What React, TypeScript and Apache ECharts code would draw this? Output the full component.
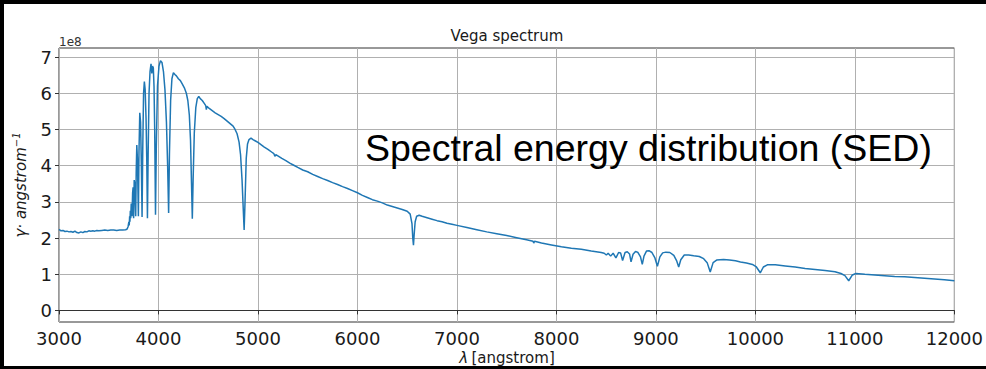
import { useEffect, useRef } from "react";
import * as echarts from "echarts";

// Vega spectral energy distribution, flux in units of 1e8 (γ · Å⁻¹)
const wavelength = [
  3000, 3020, 3040, 3060, 3080, 3100, 3120, 3140, 3160, 3180, 3200, 3220, 3240, 3260, 3280, 3300,
  3320, 3340, 3360, 3380, 3400, 3430, 3460, 3490, 3520, 3550, 3580, 3610, 3640, 3670, 3685, 3695,
  3702, 3706, 3710, 3713, 3717, 3721, 3726, 3734, 3740, 3745, 3750, 3756, 3762, 3771, 3776, 3782,
  3788, 3798, 3804, 3812, 3820, 3828, 3835, 3842, 3850, 3858, 3866, 3875, 3882, 3889, 3896, 3905,
  3915, 3925, 3933, 3940, 3948, 3955, 3962, 3970, 3978, 3990, 4005, 4020, 4035, 4050, 4065, 4080,
  4092, 4102, 4110, 4122, 4135, 4150, 4165, 4180, 4200, 4220, 4240, 4260, 4280, 4295, 4310, 4322,
  4332, 4340, 4348, 4360, 4375, 4390, 4405, 4420, 4440, 4460, 4475, 4481, 4487, 4510, 4540, 4570,
  4600, 4630, 4660, 4690, 4720, 4750, 4770, 4790, 4810, 4825, 4840, 4852, 4861, 4870, 4882, 4895,
  4910, 4930, 4950, 4975, 5000, 5030, 5060, 5100, 5140, 5160, 5170, 5180, 5200, 5240, 5280, 5320,
  5360, 5400, 5450, 5500, 5550, 5600, 5650, 5700, 5750, 5800, 5850, 5900, 5950, 6000, 6050, 6100,
  6150, 6200, 6250, 6300, 6350, 6400, 6450, 6500, 6530, 6548, 6556, 6563, 6570, 6580, 6595, 6620,
  6650, 6700, 6750, 6800, 6850, 6900, 6950, 7000, 7100, 7200, 7300, 7400, 7500, 7600, 7700, 7765,
  7772, 7780, 7850, 7950, 8050, 8150, 8250, 8350, 8450, 8480, 8502, 8520, 8545, 8570, 8598, 8625,
  8645, 8665, 8690, 8712, 8735, 8750, 8770, 8795, 8820, 8845, 8863, 8880, 8905, 8930, 8960, 8990,
  9015, 9040, 9068, 9100, 9140, 9180, 9210, 9229, 9250, 9285, 9330, 9380, 9436, 9480, 9515, 9546,
  9575, 9610, 9680, 9740, 9800, 9850, 9910, 9970, 10010, 10049, 10080, 10120, 10200, 10300, 10400, 10500,
  10600, 10700, 10800, 10860, 10900, 10938, 10975, 11010, 11100, 11200, 11300, 11400, 11500, 11600, 11700, 11800,
  11900, 12000,
];

const flux = [
  2.24, 2.2, 2.21, 2.18, 2.19, 2.17, 2.18, 2.16, 2.19, 2.15, 2.14, 2.17, 2.15, 2.18, 2.17, 2.2,
  2.19, 2.2, 2.19, 2.21, 2.2, 2.21, 2.22, 2.21, 2.22, 2.22, 2.21, 2.22, 2.22, 2.23, 2.25, 2.32,
  2.45, 2.35, 2.6, 2.45, 2.75, 2.55, 2.95, 2.6, 3.25, 3.4, 2.55, 3.6, 3.5, 2.6, 3.8, 4.57,
  4.2, 2.6, 4.4, 5.46, 5.2, 4.0, 2.58, 4.5, 6.0, 6.32, 6.1, 5.3, 4.2, 2.55, 4.3, 6.0,
  6.6, 6.81, 6.55, 6.75, 6.7, 6.2, 5.0, 2.64, 4.5, 6.2, 6.75, 6.9, 6.85, 6.6, 6.1, 5.2,
  4.0, 2.69, 4.3, 5.8, 6.4, 6.57, 6.52, 6.48, 6.4, 6.35, 6.25, 6.15, 6.0, 5.8, 5.4, 4.7,
  3.5, 2.53, 3.6, 4.9, 5.6, 5.85, 5.91, 5.85, 5.8, 5.72, 5.66, 5.55, 5.64, 5.58, 5.52, 5.46,
  5.41, 5.36, 5.3, 5.23, 5.16, 5.09, 5.0, 4.88, 4.65, 4.3, 3.6, 2.8, 2.22, 3.0, 4.2, 4.6,
  4.72, 4.76, 4.72, 4.68, 4.64, 4.58, 4.52, 4.45, 4.37, 4.33, 4.26, 4.3, 4.27, 4.2, 4.14, 4.07,
  4.01, 3.95, 3.88, 3.83, 3.76, 3.7, 3.64, 3.59, 3.53, 3.48, 3.42, 3.37, 3.31, 3.25, 3.18, 3.12,
  3.06, 3.02, 2.97, 2.91, 2.87, 2.83, 2.79, 2.74, 2.66, 2.4, 2.0, 1.8, 2.1, 2.45, 2.6, 2.63,
  2.6, 2.56, 2.52, 2.48, 2.45, 2.41, 2.38, 2.35, 2.29, 2.23, 2.17, 2.12, 2.07, 2.01, 1.95, 1.91,
  1.86, 1.91, 1.86, 1.81, 1.76, 1.72, 1.69, 1.64, 1.6, 1.58, 1.53, 1.58, 1.5, 1.58, 1.45, 1.6,
  1.59, 1.38, 1.6, 1.62, 1.56, 1.34, 1.55, 1.63, 1.6, 1.48, 1.27, 1.5, 1.64, 1.65, 1.6, 1.45,
  1.22, 1.48, 1.59, 1.61, 1.6, 1.52, 1.36, 1.2, 1.4, 1.53, 1.53, 1.51, 1.49, 1.43, 1.32, 1.06,
  1.32, 1.39, 1.41, 1.39, 1.37, 1.34, 1.31, 1.27, 1.2, 1.04, 1.2, 1.26, 1.26, 1.23, 1.2, 1.16,
  1.13, 1.1, 1.07, 1.02, 0.96, 0.82, 0.98, 1.02, 1.0, 0.98, 0.96, 0.94, 0.93, 0.91, 0.89, 0.87,
  0.85, 0.82,
];

const xTickStep = 1000;
const xRange = [3000, 12000];
const yTickValues = [0, 1, 2, 3, 4, 5, 6, 7];
const yRange = [-0.32, 7.25];

const chartTitle = "Vega spectrum";
const scaleLabel = "1e8";
const annotation = "Spectral energy distribution (SED)";

const W = 986;
const H = 369;
const PLOT_LEFT = 59;
const PLOT_TOP = 48;
const PLOT_W = 896;
const PLOT_H = 274;

const INK = "#1a1a1a";
const GRID = "#b0b0b0";
const LINE = "#1f77b4";
const FONT = "'DejaVu Sans', sans-serif";

export default function App() {
  const ref = useRef<HTMLDivElement>(null);

  useEffect(() => {
    if (!ref.current) return;
    const chart = echarts.init(ref.current, null, { renderer: "svg" });

    const span = yRange[1] - yRange[0];
    const tickMin = yTickValues[0];
    const tickMax = yTickValues[yTickValues.length - 1];
    const gridBTop = PLOT_TOP + ((yRange[1] - tickMax) / span) * PLOT_H;
    const gridBHeight = ((tickMax - tickMin) / span) * PLOT_H;

    const points = wavelength.map((w, i) => [w, flux[i]]);

    chart.setOption({
      animation: false,
      backgroundColor: "transparent",
      grid: [
        {
          left: PLOT_LEFT,
          top: PLOT_TOP,
          width: PLOT_W,
          height: PLOT_H,
          show: true,
          borderColor: "#333",
          borderWidth: 1,
          backgroundColor: "transparent",
        },
        {
          left: PLOT_LEFT,
          top: gridBTop,
          width: PLOT_W,
          height: gridBHeight,
        },
      ],
      xAxis: [
        {
          type: "value",
          gridIndex: 0,
          min: xRange[0],
          max: xRange[1],
          interval: xTickStep,
          axisLine: { show: true, lineStyle: { color: "#333", width: 1 } },
          axisTick: { show: true, inside: false, length: 4, lineStyle: { color: "#333", width: 1 } },
          axisLabel: {
            margin: 7,
            color: INK,
            fontFamily: FONT,
            fontSize: 18,
            formatter: (v: number) => String(v),
          },
          splitLine: { show: true, lineStyle: { color: GRID, width: 1 } },
        },
        {
          type: "value",
          gridIndex: 1,
          min: xRange[0],
          max: xRange[1],
          show: false,
        },
      ],
      yAxis: [
        {
          type: "value",
          gridIndex: 0,
          min: yRange[0],
          max: yRange[1],
          show: false,
          splitLine: { show: false },
        },
        {
          type: "value",
          gridIndex: 1,
          min: tickMin,
          max: tickMax,
          interval: 1,
          axisLine: { show: false },
          axisTick: { show: true, inside: false, length: 4, lineStyle: { color: "#333", width: 1 } },
          axisLabel: {
            margin: 7,
            color: INK,
            fontFamily: FONT,
            fontSize: 18,
            formatter: (v: number) => String(v),
          },
          splitLine: { show: true, lineStyle: { color: GRID, width: 1 } },
        },
      ],
      series: [
        {
          type: "line",
          xAxisIndex: 0,
          yAxisIndex: 0,
          data: points,
          showSymbol: false,
          symbol: "none",
          lineStyle: { color: LINE, width: 1.5 },
          z: 5,
        },
      ],
      graphic: [
        {
          type: "text",
          x: PLOT_LEFT + PLOT_W / 2,
          y: 36,
          style: {
            text: chartTitle,
            fill: INK,
            font: `15px ${FONT}`,
            align: "center",
            verticalAlign: "middle",
          },
        },
        {
          type: "text",
          x: PLOT_LEFT,
          y: 42,
          style: {
            text: scaleLabel,
            fill: "#333",
            font: `12px ${FONT}`,
            align: "left",
            verticalAlign: "middle",
          },
        },
        {
          type: "text",
          x: PLOT_LEFT + PLOT_W / 2,
          y: 358,
          style: {
            text: "{i|λ} {n|[angstrom]}",
            align: "center",
            verticalAlign: "middle",
            rich: {
              i: { fill: INK, fontFamily: FONT, fontStyle: "italic", fontSize: 15 },
              n: { fill: INK, fontFamily: FONT, fontSize: 15 },
            },
          },
        },
        {
          type: "text",
          x: 21,
          y: PLOT_TOP + PLOT_H / 2,
          rotation: Math.PI / 2,
          style: {
            text: "{i|γ· angstrom}{s|−1}",
            align: "center",
            verticalAlign: "middle",
            rich: {
              i: { fill: INK, fontFamily: FONT, fontStyle: "italic", fontSize: 15 },
              s: { fill: INK, fontFamily: FONT, fontStyle: "italic", fontSize: 10, padding: [0, 0, 9, 0] },
            },
          },
        },
        {
          type: "text",
          x: 365,
          y: 148,
          z: 10,
          style: {
            text: annotation,
            fill: "#000",
            font: `37.5px 'Liberation Sans', Arial, sans-serif`,
            align: "left",
            verticalAlign: "middle",
          },
        },
      ],
    });

    return () => chart.dispose();
  }, []);

  return (
    <div style={{ position: "fixed", left: 0, top: 0, width: W, height: H, background: "#000" }}>
      <div style={{ position: "absolute", left: 4, top: 4, width: W - 4, height: H - 7, background: "#fff" }} />
      <div ref={ref} style={{ position: "absolute", left: 0, top: 0, width: W, height: H }} />
    </div>
  );
}
